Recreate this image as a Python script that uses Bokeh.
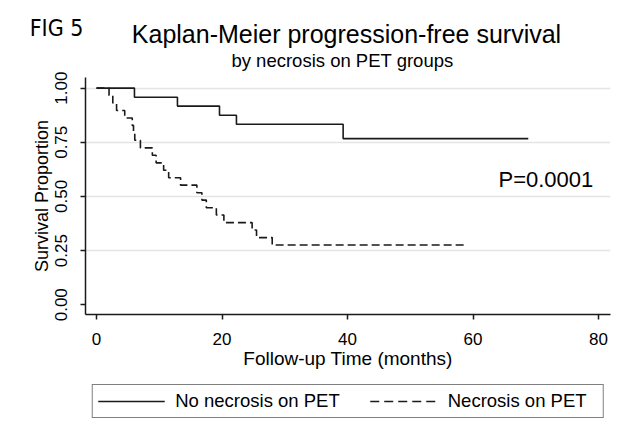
from bokeh.plotting import figure
from bokeh.layouts import column
from bokeh.models import Range1d, Label, Legend, LegendItem, FixedTicker, NumeralTickFormatter
from bokeh.embed import file_html
from bokeh.resources import INLINE

# ---- data ----
no_nec_time = [0, 6.05, 12.9, 19.6, 22.3, 39.3, 68.8]
no_nec_surv = [1.0, 0.958, 0.917, 0.875, 0.833, 0.767, 0.767]

nec_time = [0, 2.0, 2.6, 3.2, 4.5, 5.7, 5.9, 6.1, 7.0, 8.9, 9.5, 10.7, 11.5, 13.4,
            16.0, 16.8, 17.5, 19.1, 20.3, 24.8, 25.5, 28.0, 58.5]
nec_surv = [1.0, 0.966, 0.931, 0.897, 0.862, 0.828, 0.793, 0.759, 0.724, 0.690, 0.655,
            0.621, 0.586, 0.552, 0.517, 0.483, 0.448, 0.414, 0.379, 0.345, 0.310,
            0.276, 0.276]

x_ticks = [0, 20, 40, 60, 80]
y_ticks = [0.0, 0.25, 0.5, 0.75, 1.0]
grid_ticks = [0.25, 0.5, 0.75, 1.0]

title_text = "Kaplan-Meier progression-free survival"
subtitle_text = "by necrosis on PET groups"
fig_text = "FIG 5"
p_text = "P=0.0001"
series_labels = ["No necrosis on PET", "Necrosis on PET"]

FONT = "Liberation Sans"
INK = "#1a1a1a"
W = 618
LEFT, RIGHT = 85, 8

# ---------- header (figure label, title, subtitle); coordinates = page pixels ----------
head = figure(width=W, height=71, output_backend="svg", toolbar_location=None,
              x_range=Range1d(LEFT, W - RIGHT), y_range=Range1d(71, 0),
              x_axis_type=None,
              min_border_left=LEFT, min_border_right=RIGHT, min_border_top=0, min_border_bottom=0)
head.outline_line_color = None
head.grid.visible = False
hy = head.yaxis[0]
hy.ticker = FixedTicker(ticks=[27])
hy.major_label_overrides = {27: fig_text}
hy.axis_line_color = None
hy.major_tick_line_color = None
hy.minor_tick_line_color = None
hy.major_tick_out = 0
hy.major_tick_in = 0
hy.major_label_standoff = 2
hy.major_label_text_font = "DejaVu Sans Condensed, Liberation Sans"
hy.major_label_text_font_size = "23px"
hy.major_label_text_color = "black"

head.add_layout(Label(x=346, y=33, text=title_text, text_align="center", text_baseline="middle",
                      text_font=FONT, text_font_size="25px", text_color="black"))
head.add_layout(Label(x=342, y=60, text=subtitle_text, text_align="center", text_baseline="middle",
                      text_font=FONT, text_font_size="18.5px", text_color="black"))

# ---------- main plot ----------
p = figure(width=W, height=303, output_backend="svg", toolbar_location=None,
           x_range=Range1d(-1.75, 81.9), y_range=Range1d(-0.045, 1.049),
           min_border_left=LEFT, min_border_right=RIGHT, min_border_top=6, min_border_bottom=60)
p.outline_line_color = None
p.background_fill_color = "white"
p.border_fill_color = "white"

for ax in (p.xaxis[0], p.yaxis[0]):
    ax.axis_line_color = INK
    ax.axis_line_width = 1.5
    ax.major_tick_line_color = INK
    ax.major_tick_line_width = 1.5
    ax.major_tick_out = 5
    ax.major_tick_in = 0
    ax.minor_tick_line_color = None
    ax.major_label_text_font = FONT
    ax.major_label_text_font_size = "17px"
    ax.major_label_text_color = "black"
    ax.axis_label_text_font = FONT
    ax.axis_label_text_font_style = "normal"
    ax.axis_label_text_color = "black"

p.xaxis.ticker = FixedTicker(ticks=x_ticks)
p.xaxis.axis_label = "Follow-up Time (months)"
p.xaxis.axis_label_text_font_size = "19px"
p.xaxis.major_label_standoff = 13
p.xaxis.axis_label_standoff = 0

p.yaxis.ticker = FixedTicker(ticks=y_ticks)
p.yaxis.formatter = NumeralTickFormatter(format="0.00")
p.yaxis.major_label_orientation = "vertical"
p.yaxis.axis_label = "Survival Proportion"
p.yaxis.axis_label_text_font_size = "18px"
p.yaxis.major_label_standoff = 13
p.yaxis.axis_label_standoff = 1

p.xgrid.grid_line_color = None
p.ygrid.ticker = FixedTicker(ticks=grid_ticks)
p.ygrid.grid_line_color = "#e4e4e4"
p.ygrid.grid_line_width = 1.5

r1 = p.step(no_nec_time, no_nec_surv, mode="after", line_color=INK, line_width=1.6)
r2 = p.step(nec_time, nec_surv, mode="after", line_color=INK, line_width=1.6, line_dash="8 4")

p.add_layout(Label(x=64.05, y=0.578, text=p_text, text_align="left", text_baseline="middle",
                   text_font=FONT, text_font_size="22px", text_color="black"))

# ---------- legend strip (series drawn out of view, only their keys show) ----------
leg = figure(width=W, height=47, output_backend="svg", toolbar_location=None,
             x_range=Range1d(0, 1), y_range=Range1d(5, 6),
             x_axis_type=None, y_axis_type=None,
             min_border_left=LEFT, min_border_right=RIGHT, min_border_top=6, min_border_bottom=0)
leg.outline_line_color = None
leg.grid.visible = False
k1 = leg.step(no_nec_time, no_nec_surv, mode="after", line_color=INK, line_width=1.6)
k2 = leg.step(nec_time, nec_surv, mode="after", line_color=INK, line_width=1.6, line_dash="9 5")
legend = Legend(items=[LegendItem(label=series_labels[0], renderers=[k1]),
                       LegendItem(label=series_labels[1], renderers=[k2])],
                orientation="horizontal", location="center",
                label_text_font=FONT, label_text_font_size="18.5px", label_text_color="black",
                glyph_width=67, glyph_height=18, label_standoff=11, spacing=30,
                label_width=150, padding=5, margin=0,
                border_line_color="black", border_line_width=1.2,
                background_fill_color="white", label_height=18)
leg.add_layout(legend)

open("out.html", "w").write(file_html(column(head, p, leg, spacing=0), INLINE))
